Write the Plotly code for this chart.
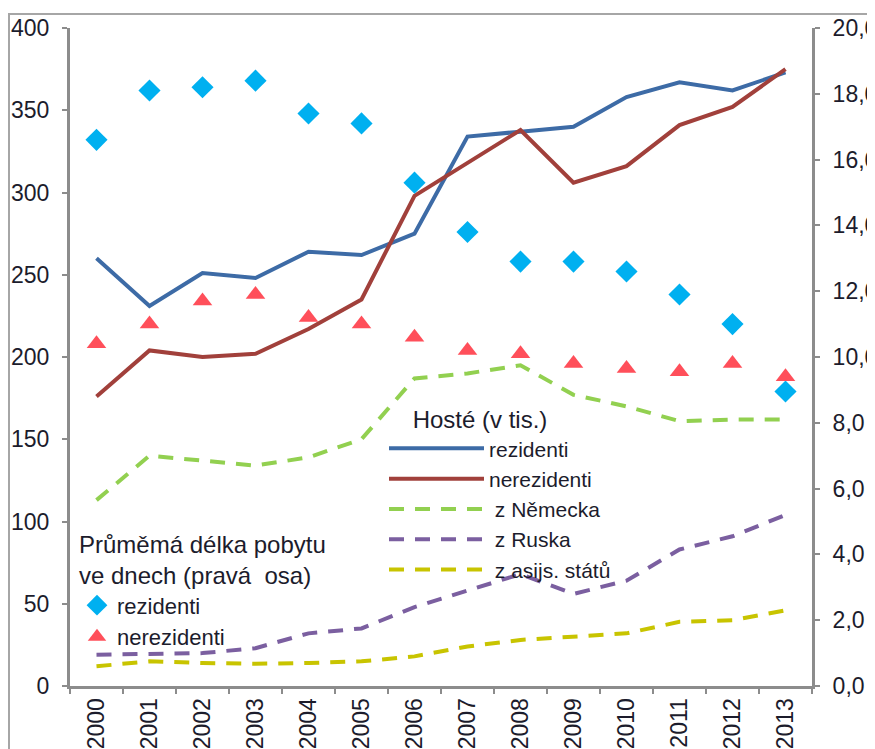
import plotly.graph_objects as go

# data
years = [str(y) for y in range(2000, 2014)]

# guests (thousands), left axis
guests_residents = [260, 231, 251, 248, 264, 262, 275, 334, 337, 340, 358, 367, 362, 373]
guests_nonresidents = [176, 204, 200, 202, 217, 235, 298, 318, 338, 306, 316, 341, 352, 375]
guests_germany = [113, 140, 137, 134, 139, 150, 187, 190, 195, 177, 170, 161, 162, 162]
guests_russia = [19, 19.5, 20, 23, 32, 35, 48, 58, 68, 56, 64, 83, 91, 104]
guests_asia = [12, 15, 14, 13.5, 14, 15, 18, 24, 28, 30, 32, 39, 40, 46]

# average length of stay in days, right axis
stay_residents = [16.6, 18.1, 18.2, 18.4, 17.4, 17.1, 15.3, 13.8, 12.9, 12.9, 12.6, 11.9, 11.0, 8.95]
stay_nonresidents = [10.4, 11.0, 11.7, 11.9, 11.2, 11.0, 10.6, 10.2, 10.1, 9.8, 9.65, 9.55, 9.8, 9.4]

# the page puts the figure 8px in from the top-left corner of the window
OFF = 8
W, H = 875 - OFF, 749 - OFF
L, R, T, B = 70 - OFF, 63, 28 - OFF, 63
FONT = 'Liberation Sans, Arial, sans-serif'
AXIS_GREY = '#8c8c8c'
TEXT = '#1c1c2c'


def px_x(px):
    # window pixel -> paper x
    return (px - OFF - L) / (W - L - R)


def px_y(py):
    # window pixel -> paper y
    return (H - B - (py - OFF)) / (H - T - B)


fig = go.Figure()

# guest lines
fig.add_trace(go.Scatter(x=years, y=guests_residents, name='rezidenti', mode='lines',
                         line=dict(color='#3d6ba6', width=4), legend='legend'))
fig.add_trace(go.Scatter(x=years, y=guests_nonresidents, name='nerezidenti', mode='lines',
                         line=dict(color='#a1403b', width=4), legend='legend'))
fig.add_trace(go.Scatter(x=years, y=guests_germany, name=' z Německa', mode='lines',
                         line=dict(color='#92d050', width=4, dash='15px,11px'), legend='legend'))
fig.add_trace(go.Scatter(x=years, y=guests_russia, name=' z Ruska', mode='lines',
                         line=dict(color='#7b5fa0', width=4, dash='15px,11px'), legend='legend'))
fig.add_trace(go.Scatter(x=years, y=guests_asia, name=' z asijs. států', mode='lines',
                         line=dict(color='#c8c400', width=4, dash='15px,11px'), legend='legend'))

# length of stay markers
fig.add_trace(go.Scatter(x=years, y=stay_residents, name='rezidenti', mode='markers', yaxis='y2',
                         marker=dict(symbol='diamond', size=17, color='#00b0f0'), legend='legend2'))
fig.add_trace(go.Scatter(x=years, y=stay_nonresidents, name='nerezidenti', mode='markers', yaxis='y2',
                         marker=dict(symbol='triangle-up', size=17, color='#ff4f5a'), legend='legend2'))

axis_common = dict(showline=True, linecolor=AXIS_GREY, linewidth=3, ticks='outside',
                   ticklen=5, tickwidth=2, tickcolor=AXIS_GREY, showgrid=False, zeroline=False,
                   automargin=False, tickfont=dict(family=FONT, size=23, color=TEXT))

fig.update_layout(
    width=W, height=H, autosize=False,
    margin=dict(l=L, r=R, t=T, b=B),
    paper_bgcolor='white', plot_bgcolor='white',
    separators=', ',
    font=dict(family=FONT, size=22, color=TEXT),
    xaxis=dict(type='category', range=[-0.5, 13.5], tickangle=-90, tickson='boundaries', **axis_common),
    yaxis=dict(range=[0, 400], dtick=50, ticklabelstandoff=8, **axis_common),
    yaxis2=dict(range=[0, 20], dtick=2, tickformat='.1f', overlaying='y', side='right',
                ticklabelstandoff=8, **axis_common),
    legend=dict(x=px_x(384), y=px_y(397), xanchor='left', yanchor='top',
                bgcolor='rgba(0,0,0,0)', itemwidth=95,
                title=dict(text='\u00a0\u00a0\u00a0\u00a0Hosté (v tis.)', side='top',
                           font=dict(family=FONT, size=24, color=TEXT)),
                font=dict(family=FONT, size=21, color=TEXT)),
    legend2=dict(x=px_x(77), y=px_y(522), xanchor='left', yanchor='top',
                 bgcolor='rgba(0,0,0,0)', itemwidth=30,
                 title=dict(text='Průměmá délka pobytu<br>ve dnech (pravá  osa)', side='top',
                            font=dict(family=FONT, size=24, color=TEXT)),
                 font=dict(family=FONT, size=22, color=TEXT)),
    shapes=[dict(type='rect', xref='paper', yref='paper',
                 x0=px_x(9), x1=px_x(900), y0=px_y(14), y1=px_y(800),
                 line=dict(color='#a6a6a6', width=2), layer='below')],
)

fig.write_html('out.html')
